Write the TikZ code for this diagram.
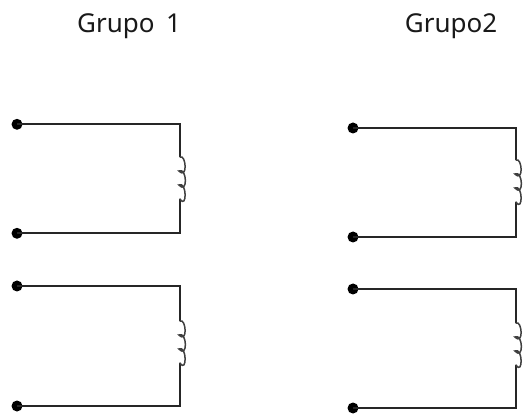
\documentclass[tikz,border=0pt]{standalone}
\usepackage{fontspec}
\setmainfont[WordSpace=1.7]{Noto Sans}
\usetikzlibrary{calc}
\tikzset{
  terminal/.style={circle,fill=black,draw=none,inner sep=0pt,minimum size=11pt},
  wire/.style={draw=black!85,line width=2pt,line join=miter},
  coilwire/.style={draw=black!75,line width=1.5pt,line cap=round},
  title/.style={font=\fontsize{26}{28}\selectfont,text=black!90,anchor=base,inner sep=0pt}
}
\newcommand{\circuito}[6]{% prefix, xleft, xright, ytop, ybottom, ycoiltop
  \node[terminal] (#1a) at (#2,#4) {};
  \node[terminal] (#1b) at (#2,#5) {};
  \coordinate (#1c) at (#3,#4);
  \coordinate (#1d) at (#3,#5);
  \coordinate (#1e) at (#3,#6);
  \coordinate (#1f) at ($(#1e)+(0,42)$);
  \draw[wire] (#1a.center) -- (#1c) -- (#1e);
  \draw[wire] (#1b.center) -- (#1d) -- (#1f);
  \draw[coilwire] (#1e)
    .. controls +(6,-3) and +(9,9) .. ++(-1,14)
    .. controls +(8,-4) and +(9,10) .. ++(0,14)
    .. controls +(8,-4) and +(7,11) .. (#1f);
}
\begin{document}
\begin{tikzpicture}[x=1pt,y=-1pt]
\useasboundingbox (0,0) rectangle (523,417);
\node[title] (g1) at (129,33) {Grupo 1};
\node[title] (g2) at (451,33) {Grupo2};
\circuito{p}{17}{180}{124.3}{233.3}{157}
\circuito{q}{17}{180}{286}{406}{321}
\circuito{r}{353}{516}{128}{237}{160}
\circuito{s}{353}{516}{289}{408}{323}
\end{tikzpicture}
\end{document}
